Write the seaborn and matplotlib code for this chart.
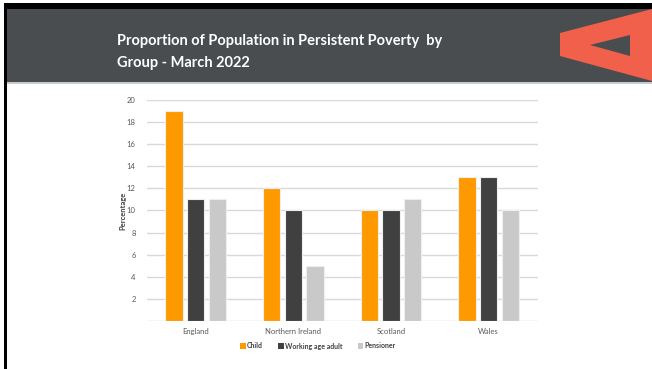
import matplotlib
matplotlib.use("Agg")
import matplotlib.pyplot as plt
import seaborn as sns
import pandas as pd
from matplotlib.patches import Rectangle, Polygon

regions = ["England", "Northern Ireland", "Scotland", "Wales"]
groups = ["Child", "Working age adult", "Pensioner"]
child = [19, 12, 10, 13]
working = [11, 10, 10, 13]
pensioner = [11, 5, 11, 10]
yticks = [2, 4, 6, 8, 10, 12, 14, 16, 18, 20]
title = "Proportion of Population in Persistent Poverty  by\nGroup - March 2022"

rows = []
for i, r in enumerate(regions):
    for g, vals in zip(groups, [child, working, pensioner]):
        rows.append({"Region": r, "Group": g, "Value": vals[i]})
df = pd.DataFrame(rows)

sns.set_theme(style="white")
plt.rcParams['font.family'] = ['Lato', 'DejaVu Sans']

W, H = 652, 369
fig = plt.figure(figsize=(W / 100, H / 100), dpi=100)
fig.patch.set_facecolor("white")

def px(x0, y0, x1, y1):
    return (x0 / W, 1 - y1 / H, (x1 - x0) / W, (y1 - y0) / H)

# header band
l, b, w, h = px(7, 9, 652, 82)
fig.patches.append(Rectangle((l, b), w, h, transform=fig.transFigure,
                             facecolor="#4a4d50", edgecolor="none", zorder=0))
l, b, w, h = px(7, 82, 652, 84)
fig.patches.append(Rectangle((l, b), w, h, transform=fig.transFigure,
                             facecolor="#c8ccce", edgecolor="none", zorder=0))
# black borders
l, b, w, h = px(4, 3, 652, 9)
fig.patches.append(Rectangle((l, b), w, h, transform=fig.transFigure,
                             facecolor="#000000", edgecolor="none", zorder=1))
l, b, w, h = px(4, 3, 7, 369)
fig.patches.append(Rectangle((l, b), w, h, transform=fig.transFigure,
                             facecolor="#000000", edgecolor="none", zorder=1))

# logo
def fp(x, y):
    return (x / W, 1 - y / H)

outer = [fp(560, 33), fp(652, 9), fp(652, 81), fp(560, 56)]
fig.patches.append(Polygon(outer, closed=True, transform=fig.transFigure,
                           facecolor="#f1604a", edgecolor="none", zorder=2))
inner = [fp(590, 45), fp(630, 35), fp(630, 56)]
fig.patches.append(Polygon(inner, closed=True, transform=fig.transFigure,
                           facecolor="#4a4d50", edgecolor="none", zorder=3))

fig.text(117 / W, 1 - 52 / H, title, color="white", fontsize=10.5,
         fontweight="bold", ha="left", va="center", linespacing=1.65)

# chart
ax = fig.add_axes(px(146.7, 100, 537.5, 321))
palette = {"Child": "#ff9900", "Working age adult": "#404040", "Pensioner": "#c9c9c9"}
sns.barplot(data=df, x="Region", y="Value", hue="Group", hue_order=groups,
            order=regions, palette=palette, width=0.667, gap=0.2,
            edgecolor="#eeeeee", linewidth=0.8, saturation=1, ax=ax, zorder=3)
ax.set_ylim(0, 20)
ax.set_yticks([0] + yticks)
ax.set_yticklabels([""] + [str(t) for t in yticks])
ax.grid(axis="y", color="#d9d9d9", linewidth=1, zorder=0)
ax.set_axisbelow(True)
for s in ax.spines.values():
    s.set_visible(False)
ax.tick_params(axis="both", length=0, labelsize=5.5, labelcolor="#595959")
ax.tick_params(axis="y", pad=8)
ax.tick_params(axis="x", pad=5)
ax.set_xlabel("")
ax.set_ylabel("Percentage", fontsize=5.5, color="#404040", fontweight="bold", labelpad=0)
ax.legend_.remove()
handles = [Rectangle((0, 0), 1, 1, facecolor=palette[g], edgecolor="none") for g in groups]
fig.legend(handles, groups, loc="center", bbox_to_anchor=(318 / W, 1 - 346 / H),
           ncol=3, frameon=False, handlelength=0.8, handleheight=0.8,
           handletextpad=0.2, columnspacing=2.2, labelcolor="#404040",
           prop={"weight": "bold", "size": 5})

fig.savefig("out.png", dpi=100)
